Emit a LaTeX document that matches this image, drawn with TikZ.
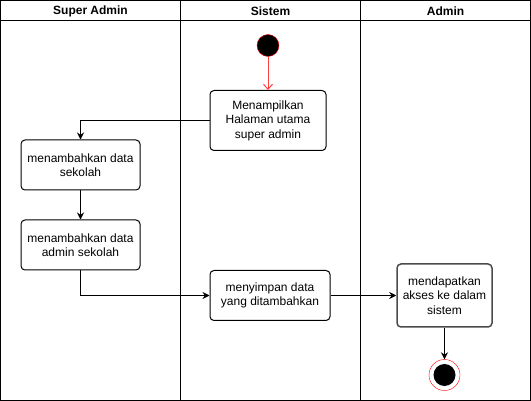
\documentclass[tikz,border=0pt]{standalone}
\usepackage{fontspec}
\setmainfont{Liberation Sans}
\usetikzlibrary{arrows.meta,positioning}
\definecolor{startred}{rgb}{1,0,0}
\definecolor{actgrey}{rgb}{0.3,0.3,0.3}

\begin{document}
\begin{tikzpicture}[x=1pt, y=-1pt,
        act/.style={draw, line width=1pt, rounded corners=4pt, align=center, inner sep=2pt, font=\fontsize{12}{14.5}\selectfont},
        lane/.style={font=\bfseries\fontsize{12}{14}\selectfont},
        flow/.style={-{Stealth[length=7pt,width=7pt]}, line width=1pt}]
        \useasboundingbox (0, 0) rectangle (531, 401);
        \draw[line width=1pt] (0.5, 0.5) rectangle (530.5, 400.5);
        \draw[line width=1pt] (0.5, 20.5) -- (530.5, 20.5)
            (180.5, 0.5) -- (180.5, 400.5)
            (360.5, 0.5) -- (360.5, 400.5);
        \node[lane] (superadmin) at (90.5, 11) {Super Admin};
        \node[lane] (sistem) at (270.5, 11) {Sistem};
        \node[lane] (admin) at (445.5, 11) {Admin};

        \node[circle, fill=black, draw=startred, minimum size=22pt, inner sep=0pt] (start) at (268, 45.5) {};
        \node[act, minimum width=116pt, minimum height=60pt] (tampil) at (268, 120.5) {Menampilkan\\Halaman utama\\super admin};
        \node[act, minimum width=119pt, minimum height=50pt] (sekolah) at (80.5, 165) {menambahkan data\\sekolah};
        \node[act, minimum width=119pt, minimum height=50pt] (adminsekolah) at (80.5, 245) {menambahkan data\\admin sekolah};
        \node[act, minimum width=120pt, minimum height=50pt] (simpan) at (270, 295.5) {menyimpan data\\yang ditambahkan};
        \node[act, draw=actgrey, line width=1.5pt, minimum width=95pt, minimum height=63pt] (akses) at (444.5, 295.5) {mendapatkan\\akses ke dalam\\sistem};
        \node[circle, draw=startred, fill=white, minimum size=31pt, inner sep=0pt] (end) at (444.5, 375) {};
        \node[circle, fill=black, minimum size=22pt, inner sep=0pt] (endin) at (end) {};

        \draw[startred!75, line width=1pt, -{Straight Barb[length=5pt,width=9pt]}] (start) -- (tampil);
        \draw[flow] (tampil.west) -| (sekolah.north);
        \draw[flow] (sekolah) -- (adminsekolah);
        \draw[flow] (adminsekolah.south) |- (simpan.west);
        \draw[flow] (simpan) -- (akses);
        \draw[flow] (akses) -- (end);
    \end{tikzpicture}
\end{document}
